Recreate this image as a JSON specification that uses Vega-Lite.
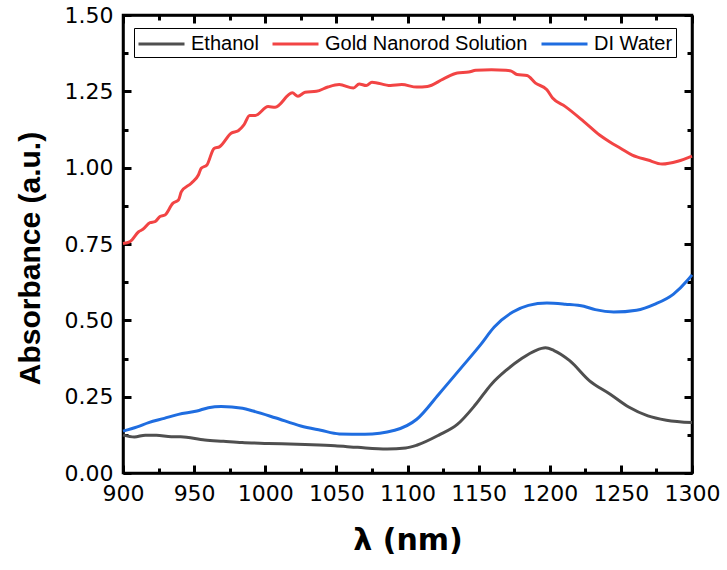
{
  "$schema": "https://vega.github.io/schema/vega-lite/v6.json",
  "width": 569,
  "height": 458,
  "autosize": {"type": "none"},
  "padding": {"left": 123, "top": 15, "right": 35, "bottom": 97},
  "background": "white",
  "config": {
    "font": "Liberation Sans",
    "view": {"stroke": "black", "strokeWidth": 2.5},
    "axis": {
      "domainColor": "black",
      "domainWidth": 2.5,
      "tickColor": "black",
      "tickWidth": 3,
      "grid": false,
      "labelColor": "black",
      "titleColor": "black"
    }
  },
  "data": {
    "values": [
      {"s": "Gold Nanorod Solution", "x": 900, "y": 0.752},
      {"s": "Gold Nanorod Solution", "x": 905, "y": 0.758},
      {"s": "Gold Nanorod Solution", "x": 911, "y": 0.79},
      {"s": "Gold Nanorod Solution", "x": 914, "y": 0.798},
      {"s": "Gold Nanorod Solution", "x": 919, "y": 0.82},
      {"s": "Gold Nanorod Solution", "x": 922.5, "y": 0.823},
      {"s": "Gold Nanorod Solution", "x": 926, "y": 0.84},
      {"s": "Gold Nanorod Solution", "x": 929.5, "y": 0.845},
      {"s": "Gold Nanorod Solution", "x": 935, "y": 0.883},
      {"s": "Gold Nanorod Solution", "x": 939, "y": 0.894},
      {"s": "Gold Nanorod Solution", "x": 941, "y": 0.921},
      {"s": "Gold Nanorod Solution", "x": 948, "y": 0.949},
      {"s": "Gold Nanorod Solution", "x": 953, "y": 0.976},
      {"s": "Gold Nanorod Solution", "x": 955, "y": 0.998},
      {"s": "Gold Nanorod Solution", "x": 959, "y": 1.009},
      {"s": "Gold Nanorod Solution", "x": 964, "y": 1.063},
      {"s": "Gold Nanorod Solution", "x": 968, "y": 1.069},
      {"s": "Gold Nanorod Solution", "x": 976, "y": 1.113},
      {"s": "Gold Nanorod Solution", "x": 981, "y": 1.121},
      {"s": "Gold Nanorod Solution", "x": 985, "y": 1.14},
      {"s": "Gold Nanorod Solution", "x": 989, "y": 1.171},
      {"s": "Gold Nanorod Solution", "x": 993, "y": 1.171},
      {"s": "Gold Nanorod Solution", "x": 1002, "y": 1.2},
      {"s": "Gold Nanorod Solution", "x": 1007, "y": 1.198},
      {"s": "Gold Nanorod Solution", "x": 1019, "y": 1.245},
      {"s": "Gold Nanorod Solution", "x": 1023, "y": 1.234},
      {"s": "Gold Nanorod Solution", "x": 1028, "y": 1.247},
      {"s": "Gold Nanorod Solution", "x": 1036, "y": 1.25},
      {"s": "Gold Nanorod Solution", "x": 1044, "y": 1.264},
      {"s": "Gold Nanorod Solution", "x": 1052, "y": 1.272},
      {"s": "Gold Nanorod Solution", "x": 1062, "y": 1.261},
      {"s": "Gold Nanorod Solution", "x": 1066, "y": 1.274},
      {"s": "Gold Nanorod Solution", "x": 1071, "y": 1.269},
      {"s": "Gold Nanorod Solution", "x": 1075, "y": 1.28},
      {"s": "Gold Nanorod Solution", "x": 1088, "y": 1.269},
      {"s": "Gold Nanorod Solution", "x": 1096, "y": 1.272},
      {"s": "Gold Nanorod Solution", "x": 1106.5, "y": 1.264},
      {"s": "Gold Nanorod Solution", "x": 1114, "y": 1.266},
      {"s": "Gold Nanorod Solution", "x": 1125, "y": 1.29},
      {"s": "Gold Nanorod Solution", "x": 1135, "y": 1.31},
      {"s": "Gold Nanorod Solution", "x": 1143, "y": 1.313},
      {"s": "Gold Nanorod Solution", "x": 1148, "y": 1.319},
      {"s": "Gold Nanorod Solution", "x": 1159, "y": 1.321},
      {"s": "Gold Nanorod Solution", "x": 1169, "y": 1.319},
      {"s": "Gold Nanorod Solution", "x": 1173, "y": 1.316},
      {"s": "Gold Nanorod Solution", "x": 1177, "y": 1.305},
      {"s": "Gold Nanorod Solution", "x": 1184, "y": 1.302},
      {"s": "Gold Nanorod Solution", "x": 1190, "y": 1.277},
      {"s": "Gold Nanorod Solution", "x": 1198, "y": 1.255},
      {"s": "Gold Nanorod Solution", "x": 1202, "y": 1.228},
      {"s": "Gold Nanorod Solution", "x": 1211, "y": 1.2},
      {"s": "Gold Nanorod Solution", "x": 1224, "y": 1.151},
      {"s": "Gold Nanorod Solution", "x": 1235, "y": 1.107},
      {"s": "Gold Nanorod Solution", "x": 1242, "y": 1.085},
      {"s": "Gold Nanorod Solution", "x": 1250, "y": 1.063},
      {"s": "Gold Nanorod Solution", "x": 1258, "y": 1.041},
      {"s": "Gold Nanorod Solution", "x": 1269, "y": 1.025},
      {"s": "Gold Nanorod Solution", "x": 1279, "y": 1.012},
      {"s": "Gold Nanorod Solution", "x": 1290, "y": 1.021},
      {"s": "Gold Nanorod Solution", "x": 1300, "y": 1.038},

      {"s": "DI Water", "x": 900, "y": 0.137},
      {"s": "DI Water", "x": 910, "y": 0.151},
      {"s": "DI Water", "x": 918, "y": 0.165},
      {"s": "DI Water", "x": 929, "y": 0.179},
      {"s": "DI Water", "x": 939, "y": 0.192},
      {"s": "DI Water", "x": 952, "y": 0.203},
      {"s": "DI Water", "x": 960, "y": 0.214},
      {"s": "DI Water", "x": 969, "y": 0.218},
      {"s": "DI Water", "x": 984, "y": 0.212},
      {"s": "DI Water", "x": 991.5, "y": 0.203},
      {"s": "DI Water", "x": 1007, "y": 0.181},
      {"s": "DI Water", "x": 1025, "y": 0.154},
      {"s": "DI Water", "x": 1039, "y": 0.14},
      {"s": "DI Water", "x": 1052, "y": 0.128},
      {"s": "DI Water", "x": 1070, "y": 0.127},
      {"s": "DI Water", "x": 1091, "y": 0.14},
      {"s": "DI Water", "x": 1106.5, "y": 0.176},
      {"s": "DI Water", "x": 1122, "y": 0.258},
      {"s": "DI Water", "x": 1138, "y": 0.346},
      {"s": "DI Water", "x": 1151, "y": 0.418},
      {"s": "DI Water", "x": 1161, "y": 0.478},
      {"s": "DI Water", "x": 1174, "y": 0.527},
      {"s": "DI Water", "x": 1185, "y": 0.549},
      {"s": "DI Water", "x": 1198, "y": 0.557},
      {"s": "DI Water", "x": 1211, "y": 0.553},
      {"s": "DI Water", "x": 1224, "y": 0.546},
      {"s": "DI Water", "x": 1232, "y": 0.535},
      {"s": "DI Water", "x": 1245, "y": 0.527},
      {"s": "DI Water", "x": 1261, "y": 0.533},
      {"s": "DI Water", "x": 1274, "y": 0.553},
      {"s": "DI Water", "x": 1287, "y": 0.586},
      {"s": "DI Water", "x": 1297, "y": 0.632},
      {"s": "DI Water", "x": 1300, "y": 0.649},

      {"s": "Ethanol", "x": 900, "y": 0.124},
      {"s": "Ethanol", "x": 908, "y": 0.118},
      {"s": "Ethanol", "x": 915.7, "y": 0.124},
      {"s": "Ethanol", "x": 923.5, "y": 0.124},
      {"s": "Ethanol", "x": 934, "y": 0.119},
      {"s": "Ethanol", "x": 940.5, "y": 0.119},
      {"s": "Ethanol", "x": 957.5, "y": 0.108},
      {"s": "Ethanol", "x": 970.6, "y": 0.104},
      {"s": "Ethanol", "x": 983.7, "y": 0.1},
      {"s": "Ethanol", "x": 1002, "y": 0.097},
      {"s": "Ethanol", "x": 1028, "y": 0.093},
      {"s": "Ethanol", "x": 1049, "y": 0.089},
      {"s": "Ethanol", "x": 1065, "y": 0.084},
      {"s": "Ethanol", "x": 1085.6, "y": 0.079},
      {"s": "Ethanol", "x": 1098.7, "y": 0.082},
      {"s": "Ethanol", "x": 1106.5, "y": 0.091},
      {"s": "Ethanol", "x": 1122, "y": 0.124},
      {"s": "Ethanol", "x": 1135, "y": 0.159},
      {"s": "Ethanol", "x": 1148, "y": 0.225},
      {"s": "Ethanol", "x": 1159, "y": 0.291},
      {"s": "Ethanol", "x": 1169, "y": 0.335},
      {"s": "Ethanol", "x": 1180, "y": 0.374},
      {"s": "Ethanol", "x": 1190, "y": 0.401},
      {"s": "Ethanol", "x": 1197, "y": 0.41},
      {"s": "Ethanol", "x": 1203, "y": 0.401},
      {"s": "Ethanol", "x": 1214, "y": 0.368},
      {"s": "Ethanol", "x": 1228, "y": 0.302},
      {"s": "Ethanol", "x": 1242.5, "y": 0.258},
      {"s": "Ethanol", "x": 1255.5, "y": 0.216},
      {"s": "Ethanol", "x": 1269, "y": 0.187},
      {"s": "Ethanol", "x": 1282, "y": 0.173},
      {"s": "Ethanol", "x": 1300, "y": 0.165}
    ]
  },
  "resolve": {"axis": {"x": "independent", "y": "independent"}},
  "layer": [
    {
      "mark": {"type": "line", "strokeWidth": 3, "interpolate": "monotone"},
      "encoding": {
        "x": {
          "field": "x", "type": "quantitative",
          "scale": {"domain": [900, 1300], "nice": false, "zero": false},
          "axis": {
            "orient": "bottom",
            "title": "λ (nm)",
            "titleFont": "DejaVu Sans",
            "titleFontSize": 30, "titleFontWeight": "bold", "titlePadding": 18,
            "values": [900, 925, 950, 975, 1000, 1025, 1050, 1075, 1100, 1125, 1150, 1175, 1200, 1225, 1250, 1275, 1300],
            "labelExpr": "datum.value % 50 === 0 ? datum.label : ''",
            "labelFont": "DejaVu Sans",
            "labelFontSize": 22, "labelPadding": 18, "labelFlush": false, "labelOverlap": false,
            "tickSize": {"condition": {"test": "datum.value % 50 === 0", "value": -8}, "value": -5},
            "format": "d"
          }
        },
        "y": {
          "field": "y", "type": "quantitative",
          "scale": {"domain": [0, 1.5], "nice": false},
          "axis": {
            "orient": "left",
            "title": "Absorbance (a.u.)",
            "titleFontSize": 30, "titleFontWeight": "bold", "titlePadding": 19, "titleY": 243,
            "values": [0, 0.125, 0.25, 0.375, 0.5, 0.625, 0.75, 0.875, 1, 1.125, 1.25, 1.375, 1.5],
            "labelExpr": "abs(datum.value*4 - round(datum.value*4)) < 0.001 ? format(datum.value, '.2f') : ''",
            "labelFont": "DejaVu Sans",
            "labelFontSize": 22, "labelPadding": 18, "labelFlush": false, "labelOverlap": false,
            "tickSize": {"condition": {"test": "abs(datum.value*4 - round(datum.value*4)) < 0.001", "value": -8}, "value": -5}
          }
        },
        "color": {
          "field": "s", "type": "nominal",
          "scale": {
            "domain": ["Ethanol", "Gold Nanorod Solution", "DI Water"],
            "range": ["#4f4f4f", "#f24444", "#1f6de0"]
          },
          "legend": {
            "title": null,
            "orient": "none",
            "legendX": 11,
            "legendY": 13,
            "direction": "horizontal",
            "symbolType": "M-1,0H3",
            "symbolSize": 529,
            "symbolStrokeWidth": 3,
            "labelFontSize": 20,
            "labelColor": "black",
            "labelFont": "Liberation Sans",
            "labelOffset": 28,
            "columnPadding": 7,
            "padding": 3,
            "strokeColor": "black",
            "fillColor": "white",
            "labelLimit": 400
          }
        }
      }
    },
    {
      "mark": {"type": "line", "strokeOpacity": 0},
      "encoding": {
        "x": {
          "field": "x", "type": "quantitative",
          "axis": {
            "orient": "top", "title": null, "labels": false,
            "values": [900, 925, 950, 975, 1000, 1025, 1050, 1075, 1100, 1125, 1150, 1175, 1200, 1225, 1250, 1275, 1300],
            "tickSize": {"condition": {"test": "datum.value % 50 === 0", "value": -8}, "value": -5}
          }
        },
        "y": {
          "field": "y", "type": "quantitative",
          "axis": {
            "orient": "right", "title": null, "labels": false,
            "values": [0, 0.125, 0.25, 0.375, 0.5, 0.625, 0.75, 0.875, 1, 1.125, 1.25, 1.375, 1.5],
            "tickSize": {"condition": {"test": "abs(datum.value*4 - round(datum.value*4)) < 0.001", "value": -8}, "value": -5}
          }
        },
        "detail": {"field": "s"}
      }
    }
  ]
}
